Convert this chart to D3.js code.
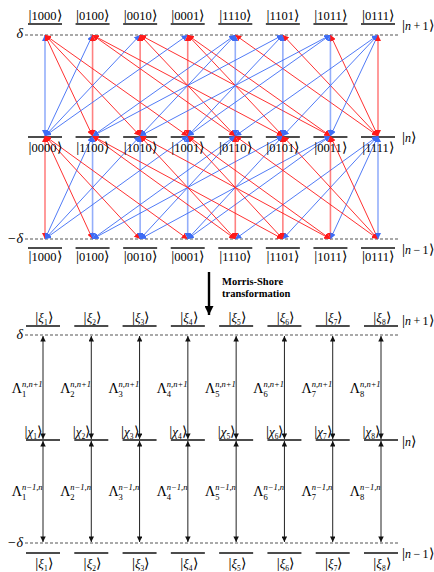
<!DOCTYPE html>
<html>
<head>
<meta charset="utf-8">
<script src="https://cdn.jsdelivr.net/npm/d3@7"></script>
<style>
  html, body { margin: 0; padding: 0; background: #fff; }
  text { font-family: "Liberation Serif", "DejaVu Serif", serif; fill: #000; }
</style>
</head>
<body>
<div id="chart"></div>
<script>
// States of each manifold, left to right
const upperStates = ['1000', '0100', '0010', '0001', '1110', '1101', '1011', '0111'];
const middleStates = ['0000', '1100', '1010', '1001', '0110', '0101', '0011', '1111'];
const lowerStates = ['1000', '0100', '0010', '0001', '1110', '1101', '1011', '0111'];

// Morris-Shore basis
const msIndices = [1, 2, 3, 4, 5, 6, 7, 8];

// Manifold names on the right
const manifoldLabels = ['n+1', 'n', 'n−1'];
const detuningLabels = ['δ', '−δ'];
const couplingSups = ['n,n+1', 'n−1,n'];

const width = 434;
const height = 572;
const red = '#ff1a1a';
const blue = '#3d6cf5';

const svg = d3.select('#chart')
    .append('svg')
    .attr('width', width)
    .attr('height', height);

const defs = svg.append('defs');

function addMarker(id, color, w, h) {
    defs.append('marker')
        .attr('id', id)
        .attr('viewBox', '0 0 10 10')
        .attr('refX', 10)
        .attr('refY', 5)
        .attr('markerUnits', 'userSpaceOnUse')
        .attr('markerWidth', w)
        .attr('markerHeight', h)
        .attr('orient', 'auto-start-reverse')
        .append('path')
        .attr('d', 'M0,0 L10,5 L0,10 Z')
        .attr('fill', color);
}
addMarker('arrow-red', red, 6, 6);
addMarker('arrow-blue', blue, 6, 6);
addMarker('arrow-black', '#111', 6, 5.5);
addMarker('arrow-big', '#000', 9, 9);

// column scales
const xTop = d3.scalePoint().domain(d3.range(8)).range([45, 378]);
const xLow = d3.scalePoint().domain(d3.range(8)).range([43, 381]);

// level heights
const yTop = d3.scaleOrdinal().domain(manifoldLabels).range([35, 136, 239]);
const yLow = d3.scaleOrdinal().domain(manifoldLabels).range([335, 440, 543]);

const levelHalf = 17;

// helpers --------------------------------------------------------------
function dashed(y) {
    svg.append('line')
        .attr('x1', 25).attr('x2', 400)
        .attr('y1', y).attr('y2', y)
        .attr('stroke', '#555')
        .attr('stroke-width', 1.1)
        .attr('stroke-dasharray', '3,2');
}

function levels(xs, y) {
    svg.append('g').selectAll('line')
        .data(d3.range(8))
        .join('line')
        .attr('x1', i => xs(i) - levelHalf)
        .attr('x2', i => xs(i) + levelHalf)
        .attr('y1', y).attr('y2', y)
        .attr('stroke', '#111')
        .attr('stroke-width', 1.4);
}

function bar(t) {
    t.append('tspan').text('|').style('font-size', '15px');
}
function bracket(t) {
    t.append('tspan').text('⟩')
        .style('font-family', 'DejaVu Sans')
        .style('font-size', '14px')
        .style('font-weight', '300');
}

function ket(g, x, y, content, anchor) {
    const t = g.append('text')
        .attr('x', x).attr('y', y)
        .attr('text-anchor', anchor || 'middle')
        .style('font-size', '12.5px');
    bar(t);
    t.append('tspan').text(content);
    bracket(t);
    return t;
}

function greekKet(g, x, y, letter, idx, anchor) {
    const t = g.append('text')
        .attr('x', x).attr('y', y)
        .attr('text-anchor', anchor || 'middle')
        .style('font-size', '13px');
    bar(t);
    t.append('tspan').text(letter).style('font-style', 'italic');
    t.append('tspan').text(idx).attr('dy', 3).style('font-size', '7.5px');
    t.append('tspan').text('⟩').attr('dy', -3)
        .style('font-family', 'DejaVu Sans')
        .style('font-size', '14px')
        .style('font-weight', '300');
}

function rightLabel(y, name) {
    const t = svg.append('text')
        .attr('x', 402).attr('y', y)
        .style('font-size', '12px');
    bar(t);
    t.append('tspan').text(name.charAt(0)).style('font-style', 'italic');
    t.append('tspan').text(name.slice(1).replace('+', '\u2009+\u2009').replace('−', '\u2009−\u2009'));
    bracket(t);
}

function deltaLabel(y, label) {
    svg.append('text')
        .attr('x', 23).attr('y', y)
        .attr('text-anchor', 'end')
        .style('font-size', '14px')
        .style('font-style', 'italic')
        .text(label);
}

// differing bit between two states (-1 if not one flip apart)
function flipBit(a, b) {
    let diff = -1, count = 0;
    for (let k = 0; k < a.length; k++) {
        if (a[k] !== b[k]) { diff = k; count++; }
    }
    return count === 1 ? diff : -1;
}

// ===== upper diagram =====================================================
const yU = yTop('n+1'), yM = yTop('n'), yL = yTop('n−1');

// transitions n+1 <-> n
const topEdges = [];
upperStates.forEach((u, i) => middleStates.forEach((m, j) => {
    const k = flipBit(u, m);
    if (k >= 0) topEdges.push({ i, j, color: m[k] === '1' ? 'red' : 'blue' });
}));
// transitions n <-> n-1
const bottomEdges = [];
lowerStates.forEach((l, i) => middleStates.forEach((m, j) => {
    const k = flipBit(l, m);
    if (k >= 0) bottomEdges.push({ i, j, color: m[k] === '0' ? 'red' : 'blue' });
}));

dashed(yU);
dashed(yL);
levels(xTop, 24);
levels(xTop, yM + 1);
levels(xTop, 248);

function drawEdges(edges, yA, yB) {
    svg.append('g').selectAll('line')
        .data(edges)
        .join('line')
        .attr('x1', d => xTop(d.i))
        .attr('y1', yA)
        .attr('x2', d => xTop(d.j))
        .attr('y2', yB)
        .attr('stroke', d => d.color === 'red' ? red : blue)
        .attr('stroke-width', d => d.i === d.j ? 1.6 : 0.9)
        .attr('stroke-opacity', d => d.i === d.j ? 0.55 : 1)
        .attr('marker-start', d => `url(#arrow-${d.color})`)
        .attr('marker-end', d => `url(#arrow-${d.color})`);
}
drawEdges(topEdges, yU, yM);
drawEdges(bottomEdges, yL, yM);

const labelsTop = svg.append('g');
upperStates.forEach((s, i) => ket(labelsTop, xTop(i), 20, s));
middleStates.forEach((s, i) => ket(labelsTop, xTop(i), 152, s));
lowerStates.forEach((s, i) => ket(labelsTop, xTop(i), 261, s));

deltaLabel(yU + 3, detuningLabels[0]);
deltaLabel(yL + 4, detuningLabels[1]);
rightLabel(30, manifoldLabels[0]);
rightLabel(142, manifoldLabels[1]);
rightLabel(254, manifoldLabels[2]);

// ===== transformation arrow ===============================================
svg.append('line')
    .attr('x1', 209).attr('x2', 209)
    .attr('y1', 272).attr('y2', 315)
    .attr('stroke', '#000')
    .attr('stroke-width', 2.4)
    .attr('marker-end', 'url(#arrow-big)');

svg.append('text')
    .attr('x', 222).attr('y', 285)
    .style('font-size', '10.5px')
    .style('font-weight', 'bold')
    .text('Morris-Shore');
svg.append('text')
    .attr('x', 222).attr('y', 297)
    .style('font-size', '10.5px')
    .style('font-weight', 'bold')
    .text('transformation');

// ===== lower diagram =====================================================
const yU2 = yLow('n+1'), yM2 = yLow('n'), yL2 = yLow('n−1');

dashed(yU2);
dashed(yL2);
levels(xLow, 326);
levels(xLow, yM2);
levels(xLow, 553);

// couplings
const couplings = svg.append('g');
couplings.selectAll('line.up')
    .data(msIndices)
    .join('line')
    .attr('class', 'up')
    .attr('x1', (d, i) => xLow(i)).attr('x2', (d, i) => xLow(i))
    .attr('y1', yU2 + 1).attr('y2', yM2 - 1)
    .attr('stroke', '#222')
    .attr('stroke-width', 1)
    .attr('marker-start', 'url(#arrow-black)')
    .attr('marker-end', 'url(#arrow-black)');
couplings.selectAll('line.down')
    .data(msIndices)
    .join('line')
    .attr('class', 'down')
    .attr('x1', (d, i) => xLow(i)).attr('x2', (d, i) => xLow(i))
    .attr('y1', yM2 + 1).attr('y2', yL2 - 1)
    .attr('stroke', '#222')
    .attr('stroke-width', 1)
    .attr('marker-start', 'url(#arrow-black)')
    .attr('marker-end', 'url(#arrow-black)');

const labelsLow = svg.append('g');
msIndices.forEach((d, i) => {
    greekKet(labelsLow, xLow(i) + 1, 322, 'ξ', d);
    greekKet(labelsLow, xLow(i) - 1, 436, 'χ', d, 'end');
    greekKet(labelsLow, xLow(i) + 1, 568, 'ξ', d);
});

// coupling labels Λ
function lambda(i, idx, baseY, sup) {
    const ax = xLow(i);
    labelsLow.append('text')
        .attr('x', ax - 21).attr('y', baseY)
        .attr('text-anchor', 'end')
        .style('font-size', '14px')
        .text('Λ');
    labelsLow.append('text')
        .attr('x', ax - 21).attr('y', baseY - 6)
        .style('font-size', '8.5px')
        .style('font-style', 'italic')
        .text(sup);
    labelsLow.append('text')
        .attr('x', ax - 21).attr('y', baseY + 4)
        .style('font-size', '8.5px')
        .text(idx);
}
msIndices.forEach((d, i) => {
    lambda(i, d, 393, couplingSups[0]);
    lambda(i, d, 496, couplingSups[1]);
});

deltaLabel(yU2 + 4, detuningLabels[0]);
deltaLabel(yL2 + 4, detuningLabels[1]);
rightLabel(325, manifoldLabels[0]);
rightLabel(446, manifoldLabels[1]);
rightLabel(558, manifoldLabels[2]);
</script>
</body>
</html>
